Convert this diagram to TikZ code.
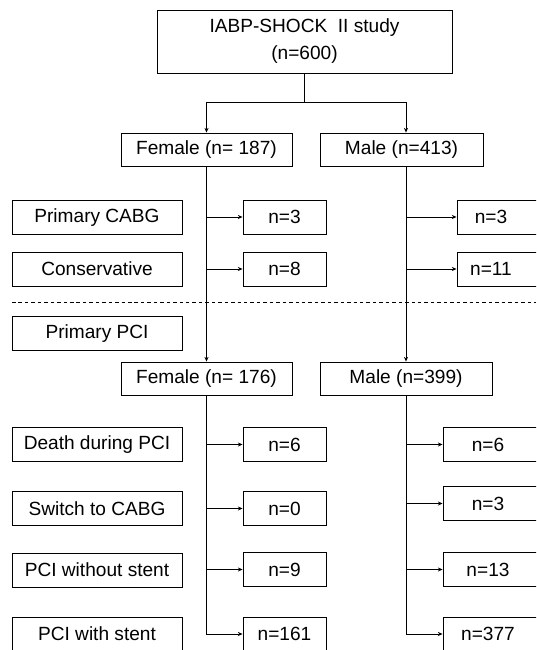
\documentclass[tikz,border=0pt]{standalone}
\usepackage{fontspec}
\setmainfont{Liberation Sans}
\usetikzlibrary{arrows.meta}

\begin{document}
\begin{tikzpicture}[
					x = 0.03cm,
					y = -0.03cm,
					every node/.style = {
						shape = rectangle,
						draw,
						line width = 0.8pt,
						inner sep = 0pt,
						font = \fontsize{16.3}{23}\selectfont,
					},
					group/.style = {minimum height = 0.99cm},
					reason/.style = {minimum width = 5.1cm, minimum height = 1.02cm},
					count/.style = {minimum width = 2.49cm, minimum height = 1.02cm},
					mtop/.style = {count, minimum width = 3cm, execute at end node = {\hspace*{0.96cm}}},
					mcount/.style = {count, minimum width = 3.3cm, execute at end node = {\hspace*{0.6cm}}},
					link/.style = {line width = 0.7pt, -{Stealth[length = 4pt, width = 3.5pt]}},
			]
				\clip (0, 0) rectangle (536, 650);

				\draw (304.5, 41.5) node (study) [minimum width = 8.85cm, minimum height = 1.89cm, align = center] {IABP-SHOCK\ \ II study\\(n=600)};
				\draw (206.5, 149.5) node (fem1) [group, minimum width = 5.13cm] {Female (n= 187)};
				\draw (401.5, 149.5) node (male1) [group, minimum width = 4.89cm] {Male (n=413)};

				\draw (97, 217.5) node (cabg) [reason] {Primary CABG};
				\draw (97, 269) node (cons) [reason] {Conservative};
				\draw (97, 333.5) node (pci) [reason] {Primary PCI};
				\draw (284.5, 217) node (fcabg) [count] {n=3};
				\draw (284.5, 269) node (fcons) [count] {n=8};
				\draw (507, 217) node (mcabg) [mtop] {n=3};
				\draw (507, 269) node (mcons) [mtop] {n=11};

				\draw (206.5, 378.5) node (fem2) [group, minimum width = 5.13cm] {Female (n= 176)};
				\draw (406, 378.5) node (male2) [group, minimum width = 5.16cm] {Male (n=399)};

				\draw (97, 444.5) node (death) [reason] {Death during PCI};
				\draw (97, 508.5) node (switch) [reason] {Switch to CABG};
				\draw (97, 570) node (nostent) [reason] {PCI without stent};
				\draw (97, 634) node (stent) [reason] {PCI with stent};
				\draw (284.5, 444.5) node (fdeath) [count] {n=6};
				\draw (284.5, 508.5) node (fswitch) [count] {n=0};
				\draw (284.5, 569.5) node (fnostent) [count] {n=9};
				\draw (284.5, 634) node (fstent) [count] {n=161};
				\draw (498, 444.5) node (mdeath) [mcount] {n=6};
				\draw (498, 503.5) node (mswitch) [mcount] {n=3};
				\draw (498, 569.5) node (mnostent) [mcount] {n=13};
				\draw (498, 634) node (mstent) [mcount] {n=377};

				% split below the study box
				\coordinate (split) at (study.south |- 0, 102);
				\coordinate (fsplit) at (fem1.north |- split);
				\coordinate (msplit) at (406, 102);
				\draw [line width = 0.7pt] (study.south) -- (split);
				\draw [line width = 0.7pt] (fsplit) -- (msplit);
				\draw [link] (fsplit) -- (fem1.north);
				\draw [link] (msplit) -- (msplit |- male1.north);

				\draw [dashed, line width = 0.7pt, dash pattern = on 3pt off 2.5pt] (12, 302.5) -- (536, 302.5);

				\draw [link] (fem1.south) -- (fem2.north);
				\draw [link] (fem1.south |- fcabg.west) -- (fcabg.west);
				\draw [link] (fem1.south |- fcons.west) -- (fcons.west);
				\draw [link] (msplit |- male1.south) -- (male2.north);
				\draw [link] (msplit |- mcabg.west) -- (mcabg.west);
				\draw [link] (msplit |- mcons.west) -- (mcons.west);

				\draw [link] (fem2.south |- fdeath.west) -- (fdeath.west);
				\draw [link] (fem2.south |- fswitch.west) -- (fswitch.west);
				\draw [link] (fem2.south |- fnostent.west) -- (fnostent.west);
				\draw [link] (fem2.south) |- (fstent.west);
				\draw [link] (male2.south |- mdeath.west) -- (mdeath.west);
				\draw [link] (male2.south |- mswitch.west) -- (mswitch.west);
				\draw [link] (male2.south |- mnostent.west) -- (mnostent.west);
				\draw [link] (male2.south) |- (mstent.west);
			\end{tikzpicture}
\end{document}
